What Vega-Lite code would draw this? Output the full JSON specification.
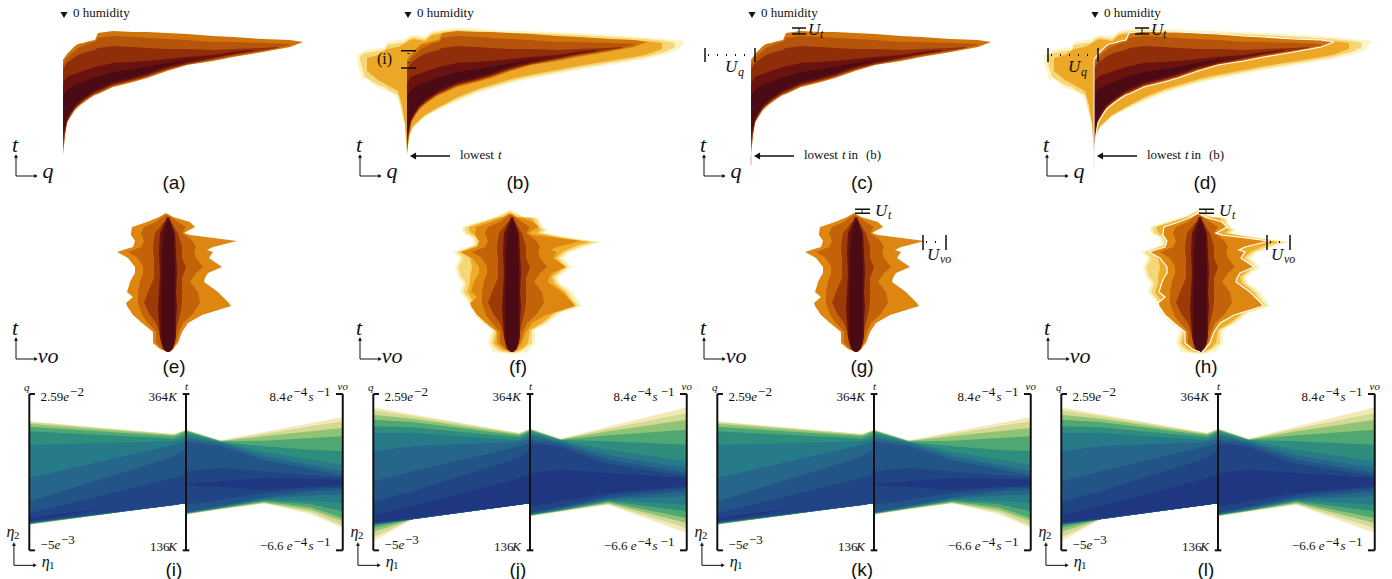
{"$schema":"https://vega.github.io/schema/vega-lite/v6.json","padding":0,"spacing":0,"bounds":"flush","background":"white","columns":4,
"resolve":{"scale":{"color":"independent","shape":"independent","size":"independent","strokeWidth":"independent","strokeDash":"independent"}},
"config":{"view":{"stroke":null},"style":{
"axislabel":{"font":"Liberation Serif","fontStyle":"italic","fontSize":22,"align":"center","baseline":"alphabetic","color":"#111"},
"caption":{"font":"Liberation Sans","fontSize":19,"align":"center","baseline":"alphabetic","color":"#111"},
"note":{"font":"Liberation Serif","fontSize":13,"align":"left","baseline":"alphabetic","color":"#111"},
"noteit":{"font":"Liberation Serif","fontStyle":"italic","fontSize":13,"align":"left","baseline":"alphabetic","color":"#111"},
"big":{"font":"Liberation Serif","fontSize":16,"align":"left","baseline":"alphabetic","color":"#111"},
"math":{"font":"Liberation Serif","fontStyle":"italic","fontSize":17,"align":"left","baseline":"alphabetic","color":"#111"},
"sub":{"font":"Liberation Serif","fontStyle":"italic","fontSize":12,"align":"left","baseline":"alphabetic","color":"#111"},
"small":{"font":"Liberation Serif","fontStyle":"italic","fontSize":11,"align":"center","baseline":"alphabetic","color":"#111"},
"eta":{"font":"Liberation Serif","fontStyle":"italic","fontSize":16,"align":"left","baseline":"alphabetic","color":"#111"},
"etasub":{"font":"Liberation Serif","fontSize":11,"align":"left","baseline":"alphabetic","color":"#111"}
}},
"datasets":{
"qshape":[
{"level":"w1","q":-50,"t":92,"t2":100},{"level":"w1","q":-44,"t":73,"t2":103},{"level":"w1","q":-42,"t":78,"t2":105},{"level":"w1","q":-29,"t":67,"t2":107},{"level":"w1","q":-22,"t":65,"t2":108},{"level":"w1","q":-20,"t":64,"t2":113},{"level":"w1","q":-9,"t":57,"t2":115},{"level":"w1","q":-7,"t":48,"t2":115},{"level":"w1","q":-2,"t":28,"t2":116},{"level":"w1","q":0,"t":0,"t2":118},{"level":"w1","q":1,"t":15,"t2":119},{"level":"w1","q":6,"t":27,"t2":120},{"level":"w1","q":18,"t":38,"t2":119},{"level":"w1","q":25,"t":42,"t2":124},{"level":"w1","q":38,"t":48,"t2":126},{"level":"w1","q":51,"t":54,"t2":127},{"level":"w1","q":71,"t":62,"t2":126},{"level":"w1","q":105,"t":72,"t2":124},{"level":"w1","q":118,"t":75,"t2":124},{"level":"w1","q":171,"t":85,"t2":122},{"level":"w1","q":221,"t":93,"t2":119},{"level":"w1","q":238,"t":96,"t2":118},{"level":"w1","q":258,"t":100,"t2":116},{"level":"w1","q":271,"t":105,"t2":115},{"level":"w1","q":278,"t":114,"t2":114},
{"level":"w2","q":-47,"t":94,"t2":99},{"level":"w2","q":-42,"t":78,"t2":102},{"level":"w2","q":-29,"t":70,"t2":104},{"level":"w2","q":-22,"t":68,"t2":105},{"level":"w2","q":-20,"t":66,"t2":110},{"level":"w2","q":-9,"t":60,"t2":112},{"level":"w2","q":-7,"t":52,"t2":112},{"level":"w2","q":-2,"t":30,"t2":113},{"level":"w2","q":0,"t":2,"t2":115},{"level":"w2","q":1,"t":16,"t2":116},{"level":"w2","q":6,"t":28,"t2":118},{"level":"w2","q":18,"t":39,"t2":116},{"level":"w2","q":25,"t":43,"t2":122},{"level":"w2","q":38,"t":50,"t2":124},{"level":"w2","q":51,"t":56,"t2":125},{"level":"w2","q":71,"t":64,"t2":124},{"level":"w2","q":105,"t":74,"t2":122},{"level":"w2","q":118,"t":77,"t2":122},{"level":"w2","q":171,"t":87,"t2":120},{"level":"w2","q":221,"t":95,"t2":117},{"level":"w2","q":238,"t":98,"t2":116},{"level":"w2","q":258,"t":103,"t2":114},{"level":"w2","q":268,"t":108,"t2":112},
{"level":"w3","q":-40,"t":84,"t2":97},{"level":"w3","q":-29,"t":75,"t2":100},{"level":"w3","q":-20,"t":70,"t2":106},{"level":"w3","q":-9,"t":64,"t2":108},{"level":"w3","q":-5,"t":50,"t2":110},{"level":"w3","q":-2,"t":32,"t2":112},{"level":"w3","q":0,"t":5,"t2":113},{"level":"w3","q":1,"t":17,"t2":114},{"level":"w3","q":6,"t":29,"t2":116},{"level":"w3","q":18,"t":40,"t2":114},{"level":"w3","q":25,"t":44,"t2":120},{"level":"w3","q":38,"t":51,"t2":122},{"level":"w3","q":51,"t":58,"t2":123},{"level":"w3","q":71,"t":66,"t2":122},{"level":"w3","q":105,"t":76,"t2":120},{"level":"w3","q":118,"t":79,"t2":120},{"level":"w3","q":171,"t":89,"t2":118},{"level":"w3","q":221,"t":97,"t2":115},{"level":"w3","q":238,"t":100,"t2":114},{"level":"w3","q":255,"t":106,"t2":112},
{"level":"a","q":0,"t":0,"t2":95},{"level":"a","q":1,"t":10,"t2":97},{"level":"a","q":2,"t":20,"t2":98},{"level":"a","q":4,"t":32,"t2":101},{"level":"a","q":8,"t":39,"t2":105},{"level":"a","q":12,"t":45,"t2":109},{"level":"a","q":15,"t":48,"t2":111},{"level":"a","q":20,"t":52,"t2":112},{"level":"a","q":27,"t":57,"t2":114},{"level":"a","q":32,"t":60,"t2":115},{"level":"a","q":35,"t":61,"t2":122},{"level":"a","q":50,"t":68,"t2":124},{"level":"a","q":70,"t":73,"t2":123},{"level":"a","q":84,"t":77,"t2":123},{"level":"a","q":104,"t":84,"t2":122},{"level":"a","q":124,"t":90,"t2":121},{"level":"a","q":150,"t":94,"t2":119},{"level":"a","q":170,"t":98,"t2":118},{"level":"a","q":200,"t":103,"t2":116},{"level":"a","q":227,"t":108,"t2":115},{"level":"a","q":240,"t":113,"t2":113},
{"level":"b","q":0,"t":5,"t2":90},{"level":"b","q":1,"t":11,"t2":92},{"level":"b","q":2,"t":21,"t2":94},{"level":"b","q":4,"t":33,"t2":97},{"level":"b","q":8,"t":40,"t2":101},{"level":"b","q":12,"t":46,"t2":104},{"level":"b","q":15,"t":49,"t2":107},{"level":"b","q":20,"t":53,"t2":109},{"level":"b","q":27,"t":58,"t2":112},{"level":"b","q":32,"t":61,"t2":113},{"level":"b","q":35,"t":62,"t2":117},{"level":"b","q":50,"t":69,"t2":119},{"level":"b","q":70,"t":74,"t2":118},{"level":"b","q":84,"t":78,"t2":117},{"level":"b","q":104,"t":85,"t2":116},{"level":"b","q":124,"t":90.5,"t2":115},{"level":"b","q":150,"t":95,"t2":113},{"level":"b","q":170,"t":99,"t2":113},{"level":"b","q":200,"t":104,"t2":112},{"level":"b","q":227,"t":110,"t2":111},
{"level":"c","q":0,"t":10,"t2":85},{"level":"c","q":2,"t":23,"t2":89},{"level":"c","q":4,"t":34,"t2":92},{"level":"c","q":8,"t":41,"t2":95},{"level":"c","q":12,"t":47,"t2":98},{"level":"c","q":15,"t":50,"t2":100},{"level":"c","q":20,"t":54,"t2":102},{"level":"c","q":27,"t":59,"t2":104},{"level":"c","q":32,"t":62,"t2":105},{"level":"c","q":35,"t":63,"t2":107},{"level":"c","q":50,"t":70,"t2":109},{"level":"c","q":70,"t":75,"t2":108},{"level":"c","q":84,"t":79,"t2":107},{"level":"c","q":104,"t":86,"t2":106},{"level":"c","q":124,"t":91,"t2":106},{"level":"c","q":150,"t":96,"t2":105},{"level":"c","q":170,"t":100,"t2":106},{"level":"c","q":200,"t":105,"t2":107},{"level":"c","q":215,"t":107,"t2":108},
{"level":"d","q":0,"t":15,"t2":72},{"level":"d","q":2,"t":25,"t2":75},{"level":"d","q":4,"t":35,"t2":78},{"level":"d","q":8,"t":42,"t2":80},{"level":"d","q":12,"t":48,"t2":81},{"level":"d","q":20,"t":55,"t2":84},{"level":"d","q":32,"t":63,"t2":88},{"level":"d","q":50,"t":71,"t2":92},{"level":"d","q":70,"t":76,"t2":93},{"level":"d","q":84,"t":80,"t2":94},{"level":"d","q":104,"t":87,"t2":96},{"level":"d","q":124,"t":92,"t2":98},{"level":"d","q":150,"t":97,"t2":100},{"level":"d","q":170,"t":101,"t2":103},{"level":"d","q":190,"t":104,"t2":105},
{"level":"e","q":0,"t":22,"t2":60},{"level":"e","q":2,"t":28,"t2":62},{"level":"e","q":4,"t":37,"t2":65},{"level":"e","q":8,"t":44,"t2":68},{"level":"e","q":12,"t":50,"t2":70},{"level":"e","q":20,"t":57,"t2":73},{"level":"e","q":32,"t":65,"t2":78},{"level":"e","q":50,"t":73,"t2":83},{"level":"e","q":70,"t":78,"t2":86},{"level":"e","q":84,"t":82,"t2":88},{"level":"e","q":104,"t":89,"t2":92},{"level":"e","q":124,"t":94,"t2":95},{"level":"e","q":140,"t":97,"t2":97}],
"r1rules":[
{"p":"abcd","k":"thin","q":-47,"t":-21,"q2":-47,"t2":-1},{"p":"abcd","k":"thin","q":-47,"t":-21,"q2":-27,"t2":-21},
{"p":"b","k":"thick","q":-6,"t":104.3,"q2":9,"t2":104.3},{"p":"b","k":"thick","q":-6,"t":87,"q2":9,"t2":87},{"p":"b","k":"dots","q":1.5,"t":102,"q2":1.5,"t2":89},
{"p":"bcd","k":"thick","q":43,"t":-1,"q2":7,"t2":-1},
{"p":"cd","k":"thick","q":41,"t":127,"q2":55,"t2":127},{"p":"cd","k":"thick","q":41,"t":121,"q2":55,"t2":121},{"p":"cd","k":"thin","q":48,"t":127,"q2":48,"t2":121},
{"p":"cd","k":"thick","q":-46,"t":107,"q2":-46,"t2":93},{"p":"cd","k":"thick","q":4,"t":107,"q2":4,"t2":93},{"p":"cd","k":"dots","q":-43,"t":100,"q2":2,"t2":100}],
"r1heads":[
{"p":"abcd","k":"small","q":-47,"t":-1,"dir":"up"},{"p":"abcd","k":"small","q":-27,"t":-21,"dir":"right"},{"p":"abcd","k":"big","q":1,"t":140,"dir":"down"},{"p":"bcd","k":"big","q":6,"t":-1,"dir":"left"}],
"r1labels":[
{"p":"abcd","k":"axis","q":-48,"t":3,"label":"t"},{"p":"abcd","k":"axis","q":-15,"t":-23,"label":"q"},
{"p":"a","k":"caption","q":111,"t":-34,"label":"(a)"},{"p":"b","k":"caption","q":111,"t":-34,"label":"(b)"},{"p":"c","k":"caption","q":111,"t":-34,"label":"(c)"},{"p":"d","k":"caption","q":111,"t":-34,"label":"(d)"},
{"p":"abcd","k":"note","q":10,"t":138,"label":"0 humidity"},{"p":"bcd","k":"note","q":53,"t":-4,"label":"lowest"},{"p":"cd","k":"note","q":97,"t":-4,"label":"in"},{"p":"cd","k":"note","q":115,"t":-4,"label":"(b)"},
{"p":"bcd","k":"noteit","q":91,"t":-4,"label":"t"},{"p":"b","k":"big","q":-30,"t":91,"label":"(i)"},
{"p":"cd","k":"math","q":57,"t":120,"label":"U"},{"p":"cd","k":"sub","q":69,"t":117,"label":"t"},{"p":"cd","k":"math","q":-26,"t":83,"label":"U"},{"p":"cd","k":"sub","q":-13,"t":79,"label":"q"}],
"voshape":[
{"level":"w1","t":142,"vo":-2,"vo2":-2},{"level":"w1","t":135,"vo":-17,"vo2":13},{"level":"w1","t":134,"vo":-20,"vo2":26},{"level":"w1","t":125,"vo":-50,"vo2":31},{"level":"w1","t":122,"vo":-50,"vo2":36},{"level":"w1","t":119,"vo":-49,"vo2":31},{"level":"w1","t":114,"vo":-40,"vo2":60},{"level":"w1","t":110,"vo":-39,"vo2":90},{"level":"w1","t":107,"vo":-39,"vo2":78},{"level":"w1","t":100,"vo":-59,"vo2":58},{"level":"w1","t":94,"vo":-52,"vo2":51},{"level":"w1","t":85,"vo":-57,"vo2":60},{"level":"w1","t":75,"vo":-54,"vo2":46},{"level":"w1","t":69,"vo":-49,"vo2":48},{"level":"w1","t":60,"vo":-52,"vo2":60},{"level":"w1","t":50,"vo":-44,"vo2":67},{"level":"w1","t":46,"vo":-42,"vo2":70},{"level":"w1","t":39,"vo":-39,"vo2":48},{"level":"w1","t":29,"vo":-30,"vo2":36},{"level":"w1","t":22,"vo":-20,"vo2":23},{"level":"w1","t":9,"vo":-24,"vo2":23},{"level":"w1","t":0,"vo":-19,"vo2":15},{"level":"w1","t":-2,"vo":1,"vo2":1},
{"level":"w2","t":141,"vo":-2,"vo2":-2},{"level":"w2","t":135,"vo":-15,"vo2":11},{"level":"w2","t":134,"vo":-18,"vo2":24},{"level":"w2","t":125,"vo":-47,"vo2":28},{"level":"w2","t":122,"vo":-47,"vo2":33},{"level":"w2","t":119,"vo":-46,"vo2":28},{"level":"w2","t":114,"vo":-37,"vo2":56},{"level":"w2","t":110,"vo":-36,"vo2":84},{"level":"w2","t":107,"vo":-36,"vo2":73},{"level":"w2","t":100,"vo":-55,"vo2":54},{"level":"w2","t":94,"vo":-49,"vo2":47},{"level":"w2","t":85,"vo":-54,"vo2":56},{"level":"w2","t":75,"vo":-51,"vo2":43},{"level":"w2","t":69,"vo":-46,"vo2":45},{"level":"w2","t":60,"vo":-49,"vo2":56},{"level":"w2","t":50,"vo":-41,"vo2":63},{"level":"w2","t":46,"vo":-39,"vo2":66},{"level":"w2","t":39,"vo":-36,"vo2":45},{"level":"w2","t":29,"vo":-27,"vo2":33},{"level":"w2","t":22,"vo":-17,"vo2":20},{"level":"w2","t":9,"vo":-21,"vo2":20},{"level":"w2","t":3,"vo":-16,"vo2":12},{"level":"w2","t":0,"vo":-10,"vo2":6},{"level":"w2","t":-1,"vo":0,"vo2":1},
{"level":"w3","t":135,"vo":-11,"vo2":9},{"level":"w3","t":134,"vo":-15,"vo2":20},{"level":"w3","t":125,"vo":-43,"vo2":25},{"level":"w3","t":122,"vo":-43,"vo2":29},{"level":"w3","t":119,"vo":-41,"vo2":25},{"level":"w3","t":114,"vo":-33,"vo2":50},{"level":"w3","t":110,"vo":-33,"vo2":78},{"level":"w3","t":107,"vo":-33,"vo2":66},{"level":"w3","t":100,"vo":-52,"vo2":50},{"level":"w3","t":94,"vo":-42,"vo2":44},{"level":"w3","t":85,"vo":-40,"vo2":53},{"level":"w3","t":75,"vo":-42,"vo2":40},{"level":"w3","t":69,"vo":-42,"vo2":42},{"level":"w3","t":60,"vo":-45,"vo2":53},{"level":"w3","t":50,"vo":-38,"vo2":60},{"level":"w3","t":46,"vo":-36,"vo2":63},{"level":"w3","t":39,"vo":-33,"vo2":42},{"level":"w3","t":29,"vo":-24,"vo2":30},{"level":"w3","t":22,"vo":-15,"vo2":18},{"level":"w3","t":9,"vo":-18,"vo2":16},{"level":"w3","t":3,"vo":-12,"vo2":10},{"level":"w3","t":0,"vo":-3,"vo2":3},
{"level":"a","t":139,"vo":-2,"vo2":-2},{"level":"a","t":135,"vo":-9,"vo2":5},{"level":"a","t":130,"vo":-21,"vo2":22},{"level":"a","t":125,"vo":-36,"vo2":27},{"level":"a","t":119,"vo":-37,"vo2":16},{"level":"a","t":117,"vo":-37,"vo2":22},{"level":"a","t":111,"vo":-33,"vo2":69},{"level":"a","t":105,"vo":-35,"vo2":45},{"level":"a","t":102,"vo":-45,"vo2":39},{"level":"a","t":100,"vo":-51,"vo2":45},{"level":"a","t":94,"vo":-40,"vo2":41},{"level":"a","t":85,"vo":-33,"vo2":54},{"level":"a","t":79,"vo":-33,"vo2":40},{"level":"a","t":74,"vo":-36,"vo2":37},{"level":"a","t":70,"vo":-38,"vo2":36},{"level":"a","t":60,"vo":-41,"vo2":50},{"level":"a","t":55,"vo":-35,"vo2":55},{"level":"a","t":49,"vo":-42,"vo2":61},{"level":"a","t":46,"vo":-41,"vo2":63},{"level":"a","t":37,"vo":-35,"vo2":34},{"level":"a","t":29,"vo":-26,"vo2":20},{"level":"a","t":20,"vo":-15,"vo2":14},{"level":"a","t":9,"vo":-15,"vo2":10},{"level":"a","t":3,"vo":-8,"vo2":5},{"level":"a","t":0,"vo":0,"vo2":2},
{"level":"m1","t":137,"vo":-3,"vo2":0},{"level":"m1","t":130,"vo":-12,"vo2":10},{"level":"m1","t":125,"vo":-24,"vo2":18},{"level":"m1","t":119,"vo":-27,"vo2":14},{"level":"m1","t":111,"vo":-24,"vo2":25},{"level":"m1","t":105,"vo":-27,"vo2":28},{"level":"m1","t":100,"vo":-40,"vo2":26},{"level":"m1","t":94,"vo":-30,"vo2":28},{"level":"m1","t":85,"vo":-25,"vo2":35},{"level":"m1","t":79,"vo":-25,"vo2":28},{"level":"m1","t":70,"vo":-28,"vo2":22},{"level":"m1","t":60,"vo":-30,"vo2":30},{"level":"m1","t":49,"vo":-30,"vo2":32},{"level":"m1","t":37,"vo":-26,"vo2":24},{"level":"m1","t":29,"vo":-20,"vo2":15},{"level":"m1","t":20,"vo":-12,"vo2":11},{"level":"m1","t":9,"vo":-12,"vo2":8},{"level":"m1","t":3,"vo":-6,"vo2":4},{"level":"m1","t":0,"vo":-1,"vo2":1},
{"level":"m2","t":130,"vo":-4,"vo2":3},{"level":"m2","t":119,"vo":-13,"vo2":10},{"level":"m2","t":105,"vo":-15,"vo2":14},{"level":"m2","t":94,"vo":-14,"vo2":14},{"level":"m2","t":85,"vo":-14,"vo2":18},{"level":"m2","t":74,"vo":-14,"vo2":14},{"level":"m2","t":60,"vo":-20,"vo2":14},{"level":"m2","t":49,"vo":-24,"vo2":14},{"level":"m2","t":37,"vo":-18,"vo2":12},{"level":"m2","t":29,"vo":-12,"vo2":10},{"level":"m2","t":20,"vo":-9,"vo2":8},{"level":"m2","t":9,"vo":-7,"vo2":7},{"level":"m2","t":1,"vo":-2,"vo2":2},
{"level":"m3","t":135,"vo":-1,"vo2":1},{"level":"m3","t":119,"vo":-8,"vo2":7},{"level":"m3","t":100,"vo":-9,"vo2":8},{"level":"m3","t":80,"vo":-8,"vo2":9},{"level":"m3","t":60,"vo":-9,"vo2":8},{"level":"m3","t":45,"vo":-10,"vo2":9},{"level":"m3","t":30,"vo":-9,"vo2":8},{"level":"m3","t":15,"vo":-8,"vo2":8},{"level":"m3","t":3,"vo":-5,"vo2":5},{"level":"m3","t":0,"vo":-1,"vo2":1},
{"level":"core","t":132,"vo":0,"vo2":0.5},{"level":"core","t":125,"vo":-3,"vo2":4},{"level":"core","t":115,"vo":-5,"vo2":6},{"level":"core","t":100,"vo":-6,"vo2":6},{"level":"core","t":80,"vo":-6,"vo2":7},{"level":"core","t":60,"vo":-7,"vo2":7},{"level":"core","t":40,"vo":-7,"vo2":7},{"level":"core","t":20,"vo":-7,"vo2":7},{"level":"core","t":8,"vo":-6,"vo2":6},{"level":"core","t":2,"vo":-3,"vo2":3},{"level":"core","t":0,"vo":-1,"vo2":1}],
"r2rules":[
{"p":"efgh","k":"thin","vo":-152,"t":-7,"vo2":-152,"t2":13},{"p":"efgh","k":"thin","vo":-152,"t":-7,"vo2":-132,"t2":-7},
{"p":"gh","k":"thick","vo":-1,"t":142.7,"vo2":14,"t2":142.7},{"p":"gh","k":"thick","vo":-1,"t":138.7,"vo2":14,"t2":138.7},{"p":"gh","k":"thin","vo":6,"t":142.7,"vo2":6,"t2":138.7},
{"p":"gh","k":"thick","vo":67,"t":117,"vo2":67,"t2":102},{"p":"gh","k":"thick","vo":90,"t":117,"vo2":90,"t2":102},{"p":"gh","k":"dots","vo":70,"t":110,"vo2":88,"t2":110}],
"r2heads":[{"p":"efgh","k":"small","vo":-152,"t":13,"dir":"up"},{"p":"efgh","k":"small","vo":-132,"t":-7,"dir":"right"}],
"r2labels":[
{"p":"efgh","k":"axis","vo":-153,"t":17,"label":"t"},{"p":"efgh","k":"axis","vo":-120,"t":-11,"label":"vo"},
{"p":"e","k":"caption","vo":6,"t":-21,"label":"(e)"},{"p":"f","k":"caption","vo":6,"t":-21,"label":"(f)"},{"p":"g","k":"caption","vo":6,"t":-21,"label":"(g)"},{"p":"h","k":"caption","vo":6,"t":-21,"label":"(h)"},
{"p":"gh","k":"math","vo":19,"t":136,"label":"U"},{"p":"gh","k":"sub","vo":32,"t":133,"label":"t"},{"p":"gh","k":"math","vo":71,"t":92,"label":"U"},{"p":"gh","k":"sub","vo":84,"t":89,"label":"vo"}],
"pcpnarrow":[
{"level":"L1","a":0,"v":77,"v2":387},{"level":"L1","a":0.925,"v":137,"v2":349},{"level":"L1","a":1,"v":142,"v2":362},{"level":"L1","a":1.002,"v":107,"v2":362},{"level":"L1","a":1.222,"v":123,"v2":330},{"level":"L1","a":1.498,"v":142,"v2":355},{"level":"L1","a":1.794,"v":109,"v2":381},{"level":"L1","a":2,"v":67,"v2":399},
{"level":"L2","a":0,"v":77,"v2":385},{"level":"L2","a":0.925,"v":137,"v2":348},{"level":"L2","a":1,"v":142,"v2":361},{"level":"L2","a":1.002,"v":108,"v2":361},{"level":"L2","a":1.222,"v":124,"v2":329},{"level":"L2","a":1.498,"v":141,"v2":349},{"level":"L2","a":1.794,"v":115,"v2":372},{"level":"L2","a":2,"v":74,"v2":387},
{"level":"L3","a":0,"v":78,"v2":380},{"level":"L3","a":0.925,"v":137,"v2":346},{"level":"L3","a":1,"v":142,"v2":360},{"level":"L3","a":1.002,"v":109,"v2":360},{"level":"L3","a":1.222,"v":125,"v2":328},{"level":"L3","a":1.498,"v":143,"v2":342},{"level":"L3","a":1.794,"v":122,"v2":357},{"level":"L3","a":2,"v":87,"v2":367},
{"level":"L4","a":0,"v":79,"v2":371},{"level":"L4","a":0.925,"v":136,"v2":342},{"level":"L4","a":1,"v":142,"v2":357},{"level":"L4","a":1.002,"v":110,"v2":358},{"level":"L4","a":1.222,"v":126,"v2":327},{"level":"L4","a":1.498,"v":146,"v2":329},{"level":"L4","a":1.794,"v":129,"v2":337},{"level":"L4","a":2,"v":97,"v2":342},
{"level":"L5","a":0,"v":80,"v2":357},{"level":"L5","a":0.925,"v":136,"v2":335},{"level":"L5","a":1,"v":142,"v2":349},{"level":"L5","a":1.002,"v":111,"v2":355},{"level":"L5","a":1.222,"v":127,"v2":326},{"level":"L5","a":1.498,"v":149,"v2":312},{"level":"L5","a":1.794,"v":139,"v2":302},{"level":"L5","a":2,"v":117,"v2":297},
{"level":"L6","a":0,"v":81,"v2":317},{"level":"L6","a":0.925,"v":136,"v2":327},{"level":"L6","a":1,"v":142,"v2":337},{"level":"L6","a":1.002,"v":112,"v2":347},{"level":"L6","a":1.222,"v":129,"v2":324},{"level":"L6","a":1.498,"v":151,"v2":295},{"level":"L6","a":1.794,"v":149,"v2":272},{"level":"L6","a":2,"v":142,"v2":257},
{"level":"L7","a":0,"v":82,"v2":217},{"level":"L7","a":0.925,"v":136,"v2":317},{"level":"L7","a":1,"v":142,"v2":327},{"level":"L7","a":1.002,"v":113,"v2":337},{"level":"L7","a":1.222,"v":131,"v2":321},{"level":"L7","a":1.498,"v":155,"v2":282},{"level":"L7","a":1.794,"v":165,"v2":255},{"level":"L7","a":2,"v":167,"v2":237},
{"level":"L8","a":0,"v":83,"v2":147},{"level":"L8","a":0.925,"v":136,"v2":282},{"level":"L8","a":1,"v":142,"v2":302},{"level":"L8","a":1.002,"v":115,"v2":327},{"level":"L8","a":1.222,"v":133,"v2":312},{"level":"L8","a":1.498,"v":159,"v2":272},{"level":"L8","a":1.794,"v":177,"v2":245},{"level":"L8","a":2,"v":182,"v2":225},
{"level":"L9","a":0,"v":85,"v2":112},{"level":"L9","a":0.925,"v":137,"v2":217},{"level":"L9","a":1,"v":141,"v2":227},{"level":"L9","a":1.002,"v":137,"v2":237},{"level":"L9","a":1.222,"v":152,"v2":247},{"level":"L9","a":1.498,"v":172,"v2":237},{"level":"L9","a":1.794,"v":185,"v2":225},{"level":"L9","a":2,"v":189,"v2":219},
{"level":"L10","a":0,"v":87,"v2":97},{"level":"L10","a":0.4,"v":117,"v2":122},{"level":"L10","a":0.45,"v":125,"v2":125},{"level":"L10","a":1,"v":187,"v2":187},{"level":"L10","a":1.002,"v":195,"v2":199},{"level":"L10","a":1.5,"v":182,"v2":217},{"level":"L10","a":2,"v":195,"v2":212}],
"pcpwide":[
{"level":"L1","a":0,"v":27,"v2":429},{"level":"L1","a":0.25,"v":93,"v2":408},{"level":"L1","a":0.93,"v":137,"v2":352},{"level":"L1","a":1,"v":142,"v2":365},{"level":"L1","a":1.002,"v":102,"v2":365},{"level":"L1","a":1.195,"v":116,"v2":335},{"level":"L1","a":1.5,"v":137,"v2":371},{"level":"L1","a":2,"v":52,"v2":429},
{"level":"L2","a":0,"v":39,"v2":420},{"level":"L2","a":0.25,"v":93,"v2":403},{"level":"L2","a":0.93,"v":137,"v2":351},{"level":"L2","a":1,"v":142,"v2":364},{"level":"L2","a":1.002,"v":103,"v2":364},{"level":"L2","a":1.195,"v":117,"v2":334},{"level":"L2","a":1.5,"v":138,"v2":365},{"level":"L2","a":2,"v":67,"v2":412},
{"level":"L3","a":0,"v":55,"v2":407},{"level":"L3","a":0.25,"v":93,"v2":395},{"level":"L3","a":0.93,"v":137,"v2":349},{"level":"L3","a":1,"v":142,"v2":362},{"level":"L3","a":1.002,"v":104,"v2":363},{"level":"L3","a":1.195,"v":118,"v2":333},{"level":"L3","a":1.5,"v":141,"v2":357},{"level":"L3","a":2,"v":82,"v2":392},
{"level":"L4","a":0,"v":67,"v2":392},{"level":"L4","a":0.25,"v":93,"v2":385},{"level":"L4","a":0.93,"v":137,"v2":345},{"level":"L4","a":1,"v":142,"v2":359},{"level":"L4","a":1.002,"v":105,"v2":361},{"level":"L4","a":1.195,"v":119,"v2":332},{"level":"L4","a":1.5,"v":144,"v2":345},{"level":"L4","a":2,"v":97,"v2":362},
{"level":"L5","a":0,"v":75,"v2":372},{"level":"L5","a":0.25,"v":93,"v2":369},{"level":"L5","a":0.93,"v":137,"v2":339},{"level":"L5","a":1,"v":142,"v2":354},{"level":"L5","a":1.002,"v":106,"v2":358},{"level":"L5","a":1.195,"v":120,"v2":331},{"level":"L5","a":1.5,"v":147,"v2":327},{"level":"L5","a":2,"v":117,"v2":317},
{"level":"L6","a":0,"v":77,"v2":352},{"level":"L6","a":0.25,"v":93,"v2":352},{"level":"L6","a":0.93,"v":137,"v2":331},{"level":"L6","a":1,"v":142,"v2":345},{"level":"L6","a":1.002,"v":107,"v2":352},{"level":"L6","a":1.195,"v":122,"v2":329},{"level":"L6","a":1.5,"v":150,"v2":302},{"level":"L6","a":2,"v":137,"v2":267},
{"level":"L7","a":0,"v":77,"v2":297},{"level":"L7","a":0.25,"v":93,"v2":312},{"level":"L7","a":0.93,"v":137,"v2":325},{"level":"L7","a":1,"v":142,"v2":335},{"level":"L7","a":1.002,"v":108,"v2":342},{"level":"L7","a":1.195,"v":124,"v2":325},{"level":"L7","a":1.5,"v":153,"v2":285},{"level":"L7","a":2,"v":162,"v2":247},
{"level":"L8","a":0,"v":79,"v2":207},{"level":"L8","a":0.25,"v":93,"v2":237},{"level":"L8","a":0.93,"v":137,"v2":312},{"level":"L8","a":1,"v":142,"v2":322},{"level":"L8","a":1.002,"v":110,"v2":332},{"level":"L8","a":1.195,"v":127,"v2":319},{"level":"L8","a":1.5,"v":157,"v2":272},{"level":"L8","a":2,"v":177,"v2":232},
{"level":"L9","a":0,"v":81,"v2":147},{"level":"L9","a":0.25,"v":95,"v2":177},{"level":"L9","a":0.93,"v":137,"v2":277},{"level":"L9","a":1,"v":141,"v2":302},{"level":"L9","a":1.002,"v":114,"v2":322},{"level":"L9","a":1.195,"v":131,"v2":309},{"level":"L9","a":1.5,"v":165,"v2":259},{"level":"L9","a":2,"v":187,"v2":222},
{"level":"L10","a":0,"v":83,"v2":107},{"level":"L10","a":0.25,"v":97,"v2":132},{"level":"L10","a":0.93,"v":137,"v2":217},{"level":"L10","a":1,"v":141,"v2":227},{"level":"L10","a":1.002,"v":132,"v2":232},{"level":"L10","a":1.195,"v":147,"v2":242},{"level":"L10","a":1.5,"v":172,"v2":232},{"level":"L10","a":2,"v":192,"v2":217}],
"r3rules":[
{"k":"thick","a":0,"v":0,"a2":0,"v2":469},{"k":"thick","a":0,"v":469,"a2":0.036,"v2":469},{"k":"thick","a":0,"v":0,"a2":0.036,"v2":0},
{"k":"thick","a":1,"v":0,"a2":1,"v2":469},{"k":"thick","a":0.979,"v":469,"a2":1.021,"v2":469},{"k":"thick","a":0.979,"v":0,"a2":1.021,"v2":0},
{"k":"thick","a":2,"v":0,"a2":2,"v2":469},{"k":"thick","a":1.957,"v":469,"a2":2,"v2":469},{"k":"thick","a":1.957,"v":0,"a2":2,"v2":0},
{"k":"thin","a":-0.098,"v":-45,"a2":-0.098,"v2":19},{"k":"thin","a":-0.098,"v":-45,"a2":0.036,"v2":-45}],
"r3heads":[{"k":"small","a":-0.098,"v":19,"dir":"up"},{"k":"small","a":0.036,"v":-45,"dir":"right"}],
"r3labels":[
{"p":"ijkl","k":"small","a":-0.017,"v":479,"label":"q"},{"p":"ijkl","k":"small","a":1.004,"v":482,"label":"t"},{"p":"ijkl","k":"small","a":2,"v":482,"label":"vo"},
{"p":"ijkl","k":"note","a":0.072,"v":449,"label":"2.59"},{"p":"ijkl","k":"noteit","a":0.217,"v":449,"label":"e"},{"p":"ijkl","k":"note","a":0.26,"v":462,"label":"−2"},
{"p":"ijkl","k":"note","a":0.072,"v":5,"label":"−5"},{"p":"ijkl","k":"noteit","a":0.16,"v":5,"label":"e"},{"p":"ijkl","k":"note","a":0.202,"v":19,"label":"−3"},
{"p":"ijkl","k":"note","a":0.76,"v":449,"label":"364"},{"p":"ijkl","k":"noteit","a":0.887,"v":449,"label":"K"},{"p":"ijkl","k":"note","a":0.77,"v":-3,"label":"136"},{"p":"ijkl","k":"noteit","a":0.887,"v":-3,"label":"K"},
{"p":"ijkl","k":"note","a":1.532,"v":449,"label":"8.4"},{"p":"ijkl","k":"noteit","a":1.643,"v":449,"label":"e"},{"p":"ijkl","k":"note","a":1.685,"v":462,"label":"−4"},{"p":"ijkl","k":"noteit","a":1.781,"v":449,"label":"s"},{"p":"ijkl","k":"note","a":1.834,"v":462,"label":"−1"},
{"p":"ijkl","k":"note","a":1.472,"v":0,"label":"−6.6"},{"p":"ijkl","k":"noteit","a":1.643,"v":0,"label":"e"},{"p":"ijkl","k":"note","a":1.685,"v":14,"label":"−4"},{"p":"ijkl","k":"noteit","a":1.781,"v":0,"label":"s"},{"p":"ijkl","k":"note","a":1.834,"v":14,"label":"−1"},
{"p":"ijkl","k":"eta","a":-0.145,"v":39,"label":"η"},{"p":"ijkl","k":"etasub","a":-0.098,"v":34,"label":"2"},{"p":"ijkl","k":"eta","a":0.079,"v":-51,"label":"η"},{"p":"ijkl","k":"etasub","a":0.125,"v":-57,"label":"1"},
{"p":"i","k":"caption","a":0.923,"v":-76,"label":"(i)"},{"p":"j","k":"caption","a":0.923,"v":-76,"label":"(j)"},{"p":"k","k":"caption","a":0.923,"v":-76,"label":"(k)"},{"p":"l","k":"caption","a":0.923,"v":-76,"label":"(l)"}]
},
"concat":[
{"width":344,"height":193,"encoding":{"x":{"field":"q","type":"quantitative","axis":null,"scale":{"domain":[-63,281],"nice":false,"zero":false}},"y":{"field":"t","type":"quantitative","axis":null,"scale":{"domain":[-38,155],"nice":false,"zero":false}}},"layer":[
{"data":{"name":"qshape"},"transform":[{"filter":"indexof(['a','b','c','d','e'],datum.level)>=0"}],"mark":{"type":"area"},"encoding":{"y2":{"field":"t2"},"color":{"field":"level","type":"nominal","legend":null,"scale":{"domain":["w1","w2","w3","a","b","c","d","e"],"range":["#fbf4c4","#f6d677","#eda726","#cf730b","#b5540a","#8f2e09","#6a1210","#4a0b15"]}}}},
{"data":{"name":"r1rules"},"transform":[{"filter":"indexof(datum.p,'a')>=0"}],"mark":{"type":"rule","color":"#111"},"encoding":{"x2":{"field":"q2"},"y2":{"field":"t2"},"strokeWidth":{"field":"k","type":"nominal","legend":null,"scale":{"domain":["thin","thick","dots"],"range":[1,2,1.2]}},"strokeDash":{"field":"k","type":"nominal","legend":null,"scale":{"domain":["thin","thick","dots"],"range":[[1,0],[1,0],[1,8]]}}}},
{"data":{"name":"r1heads"},"transform":[{"filter":"indexof(datum.p,'a')>=0"}],"mark":{"type":"point","filled":true,"color":"#111","opacity":1},"encoding":{"shape":{"field":"dir","type":"nominal","legend":null,"scale":{"domain":["up","right","left","down"],"range":["triangle-up","triangle-right","triangle-left","triangle-down"]}},"size":{"field":"k","type":"ordinal","legend":null,"scale":{"domain":["small","big"],"range":[16,50]}}}},
{"data":{"name":"r1labels"},"transform":[{"filter":"indexof(datum.p,'a')>=0&&datum.k=='axis'"}],"mark":{"type":"text","style":"axislabel"},"encoding":{"text":{"field":"label"}}},
{"data":{"name":"r1labels"},"transform":[{"filter":"indexof(datum.p,'a')>=0&&datum.k=='caption'"}],"mark":{"type":"text","style":"caption"},"encoding":{"text":{"field":"label"}}},
{"data":{"name":"r1labels"},"transform":[{"filter":"indexof(datum.p,'a')>=0&&datum.k=='note'"}],"mark":{"type":"text","style":"note"},"encoding":{"text":{"field":"label"}}}
]},
{"width":344,"height":193,"encoding":{"x":{"field":"q","type":"quantitative","axis":null,"scale":{"domain":[-63,281],"nice":false,"zero":false}},"y":{"field":"t","type":"quantitative","axis":null,"scale":{"domain":[-38,155],"nice":false,"zero":false}}},"layer":[
{"data":{"name":"qshape"},"mark":{"type":"area"},"encoding":{"y2":{"field":"t2"},"color":{"field":"level","type":"nominal","legend":null,"scale":{"domain":["w1","w2","w3","a","b","c","d","e"],"range":["#fbf4c4","#f6d677","#eda726","#cf730b","#b5540a","#8f2e09","#6a1210","#4a0b15"]}}}},
{"data":{"name":"r1rules"},"transform":[{"filter":"indexof(datum.p,'b')>=0"}],"mark":{"type":"rule","color":"#111"},"encoding":{"x2":{"field":"q2"},"y2":{"field":"t2"},"strokeWidth":{"field":"k","type":"nominal","legend":null,"scale":{"domain":["thin","thick","dots"],"range":[1,2,1.2]}},"strokeDash":{"field":"k","type":"nominal","legend":null,"scale":{"domain":["thin","thick","dots"],"range":[[1,0],[1,0],[1,8]]}}}},
{"data":{"name":"r1heads"},"transform":[{"filter":"indexof(datum.p,'b')>=0"}],"mark":{"type":"point","filled":true,"color":"#111","opacity":1},"encoding":{"shape":{"field":"dir","type":"nominal","legend":null,"scale":{"domain":["up","right","left","down"],"range":["triangle-up","triangle-right","triangle-left","triangle-down"]}},"size":{"field":"k","type":"ordinal","legend":null,"scale":{"domain":["small","big"],"range":[16,50]}}}},
{"data":{"name":"r1labels"},"transform":[{"filter":"indexof(datum.p,'b')>=0&&datum.k=='axis'"}],"mark":{"type":"text","style":"axislabel"},"encoding":{"text":{"field":"label"}}},
{"data":{"name":"r1labels"},"transform":[{"filter":"indexof(datum.p,'b')>=0&&datum.k=='caption'"}],"mark":{"type":"text","style":"caption"},"encoding":{"text":{"field":"label"}}},
{"data":{"name":"r1labels"},"transform":[{"filter":"indexof(datum.p,'b')>=0&&datum.k=='note'"}],"mark":{"type":"text","style":"note"},"encoding":{"text":{"field":"label"}}},
{"data":{"name":"r1labels"},"transform":[{"filter":"indexof(datum.p,'b')>=0&&datum.k=='noteit'"}],"mark":{"type":"text","style":"noteit"},"encoding":{"text":{"field":"label"}}},
{"data":{"name":"r1labels"},"transform":[{"filter":"indexof(datum.p,'b')>=0&&datum.k=='big'"}],"mark":{"type":"text","style":"big"},"encoding":{"text":{"field":"label"}}}
]},
{"width":344,"height":193,"encoding":{"x":{"field":"q","type":"quantitative","axis":null,"scale":{"domain":[-63,281],"nice":false,"zero":false}},"y":{"field":"t","type":"quantitative","axis":null,"scale":{"domain":[-38,155],"nice":false,"zero":false}}},"layer":[
{"data":{"name":"qshape"},"transform":[{"filter":"indexof(['a','b','c','d','e'],datum.level)>=0"}],"mark":{"type":"area"},"encoding":{"y2":{"field":"t2"},"color":{"field":"level","type":"nominal","legend":null,"scale":{"domain":["w1","w2","w3","a","b","c","d","e"],"range":["#fbf4c4","#f6d677","#eda726","#cf730b","#b5540a","#8f2e09","#6a1210","#4a0b15"]}}}},
{"data":{"values":[{"q":0,"t":0,"t2":-10}]},"mark":{"type":"rule","color":"#e0a8a8","strokeWidth":1},"encoding":{"y2":{"field":"t2"}}},
{"data":{"name":"r1rules"},"transform":[{"filter":"indexof(datum.p,'c')>=0"}],"mark":{"type":"rule","color":"#111"},"encoding":{"x2":{"field":"q2"},"y2":{"field":"t2"},"strokeWidth":{"field":"k","type":"nominal","legend":null,"scale":{"domain":["thin","thick","dots"],"range":[1,2,1.2]}},"strokeDash":{"field":"k","type":"nominal","legend":null,"scale":{"domain":["thin","thick","dots"],"range":[[1,0],[1,0],[1,8]]}}}},
{"data":{"name":"r1heads"},"transform":[{"filter":"indexof(datum.p,'c')>=0"}],"mark":{"type":"point","filled":true,"color":"#111","opacity":1},"encoding":{"shape":{"field":"dir","type":"nominal","legend":null,"scale":{"domain":["up","right","left","down"],"range":["triangle-up","triangle-right","triangle-left","triangle-down"]}},"size":{"field":"k","type":"ordinal","legend":null,"scale":{"domain":["small","big"],"range":[16,50]}}}},
{"data":{"name":"r1labels"},"transform":[{"filter":"indexof(datum.p,'c')>=0&&datum.k=='axis'"}],"mark":{"type":"text","style":"axislabel"},"encoding":{"text":{"field":"label"}}},
{"data":{"name":"r1labels"},"transform":[{"filter":"indexof(datum.p,'c')>=0&&datum.k=='caption'"}],"mark":{"type":"text","style":"caption"},"encoding":{"text":{"field":"label"}}},
{"data":{"name":"r1labels"},"transform":[{"filter":"indexof(datum.p,'c')>=0&&datum.k=='note'"}],"mark":{"type":"text","style":"note"},"encoding":{"text":{"field":"label"}}},
{"data":{"name":"r1labels"},"transform":[{"filter":"indexof(datum.p,'c')>=0&&datum.k=='noteit'"}],"mark":{"type":"text","style":"noteit"},"encoding":{"text":{"field":"label"}}},
{"data":{"name":"r1labels"},"transform":[{"filter":"indexof(datum.p,'c')>=0&&datum.k=='math'"}],"mark":{"type":"text","style":"math"},"encoding":{"text":{"field":"label"}}},
{"data":{"name":"r1labels"},"transform":[{"filter":"indexof(datum.p,'c')>=0&&datum.k=='sub'"}],"mark":{"type":"text","style":"sub"},"encoding":{"text":{"field":"label"}}}
]},
{"width":344,"height":193,"encoding":{"x":{"field":"q","type":"quantitative","axis":null,"scale":{"domain":[-62,282],"nice":false,"zero":false}},"y":{"field":"t","type":"quantitative","axis":null,"scale":{"domain":[-38,155],"nice":false,"zero":false}}},"layer":[
{"data":{"name":"qshape"},"mark":{"type":"area"},"encoding":{"y2":{"field":"t2"},"color":{"field":"level","type":"nominal","legend":null,"scale":{"domain":["w1","w2","w3","a","b","c","d","e"],"range":["#fbf4c4","#f6d677","#eda726","#cf730b","#b5540a","#8f2e09","#6a1210","#4a0b15"]}}}},
{"data":{"name":"qshape"},"transform":[{"filter":"datum.level=='a'"}],"mark":{"type":"line","color":"#ffffff","strokeWidth":1.2}},
{"data":{"name":"qshape"},"transform":[{"filter":"datum.level=='a'"}],"mark":{"type":"line","color":"#ffffff","strokeWidth":1.2},"encoding":{"y":{"field":"t2","type":"quantitative"}}},
{"data":{"values":[{"q":0,"t":95,"t2":-13}]},"mark":{"type":"rule","color":"#f4e6e6","strokeWidth":1.2},"encoding":{"y2":{"field":"t2"}}},
{"data":{"name":"r1rules"},"transform":[{"filter":"indexof(datum.p,'d')>=0"}],"mark":{"type":"rule","color":"#111"},"encoding":{"x2":{"field":"q2"},"y2":{"field":"t2"},"strokeWidth":{"field":"k","type":"nominal","legend":null,"scale":{"domain":["thin","thick","dots"],"range":[1,2,1.2]}},"strokeDash":{"field":"k","type":"nominal","legend":null,"scale":{"domain":["thin","thick","dots"],"range":[[1,0],[1,0],[1,8]]}}}},
{"data":{"name":"r1heads"},"transform":[{"filter":"indexof(datum.p,'d')>=0"}],"mark":{"type":"point","filled":true,"color":"#111","opacity":1},"encoding":{"shape":{"field":"dir","type":"nominal","legend":null,"scale":{"domain":["up","right","left","down"],"range":["triangle-up","triangle-right","triangle-left","triangle-down"]}},"size":{"field":"k","type":"ordinal","legend":null,"scale":{"domain":["small","big"],"range":[16,50]}}}},
{"data":{"name":"r1labels"},"transform":[{"filter":"indexof(datum.p,'d')>=0&&datum.k=='axis'"}],"mark":{"type":"text","style":"axislabel"},"encoding":{"text":{"field":"label"}}},
{"data":{"name":"r1labels"},"transform":[{"filter":"indexof(datum.p,'d')>=0&&datum.k=='caption'"}],"mark":{"type":"text","style":"caption"},"encoding":{"text":{"field":"label"}}},
{"data":{"name":"r1labels"},"transform":[{"filter":"indexof(datum.p,'d')>=0&&datum.k=='note'"}],"mark":{"type":"text","style":"note"},"encoding":{"text":{"field":"label"}}},
{"data":{"name":"r1labels"},"transform":[{"filter":"indexof(datum.p,'d')>=0&&datum.k=='noteit'"}],"mark":{"type":"text","style":"noteit"},"encoding":{"text":{"field":"label"}}},
{"data":{"name":"r1labels"},"transform":[{"filter":"indexof(datum.p,'d')>=0&&datum.k=='math'"}],"mark":{"type":"text","style":"math"},"encoding":{"text":{"field":"label"}}},
{"data":{"name":"r1labels"},"transform":[{"filter":"indexof(datum.p,'d')>=0&&datum.k=='sub'"}],"mark":{"type":"text","style":"sub"},"encoding":{"text":{"field":"label"}}}
]},
{"width":344,"height":187,"encoding":{"x":{"field":"vo","type":"quantitative","axis":null,"scale":{"domain":[-168,176],"nice":false,"zero":false}},"y":{"field":"t","type":"quantitative","axis":null,"scale":{"domain":[-28,159],"nice":false,"zero":false}}},"layer":[
{"data":{"name":"voshape"},"transform":[{"filter":"indexof(['a','m1','m2','m3','core'],datum.level)>=0"}],"mark":{"type":"area","orient":"horizontal"},"encoding":{"x2":{"field":"vo2"},"color":{"field":"level","type":"nominal","legend":null,"scale":{"domain":["w1","w2","w3","a","m1","m2","m3","core"],"range":["#fbf3bf","#f6d777","#eeae2a","#de8710","#c4620a","#9c3b08","#6a130e","#4a0b15"]}}}},
{"data":{"name":"r2rules"},"transform":[{"filter":"indexof(datum.p,'e')>=0"}],"mark":{"type":"rule","color":"#111"},"encoding":{"x2":{"field":"vo2"},"y2":{"field":"t2"},"strokeWidth":{"field":"k","type":"nominal","legend":null,"scale":{"domain":["thin","thick","dots"],"range":[1,2,1.2]}},"strokeDash":{"field":"k","type":"nominal","legend":null,"scale":{"domain":["thin","thick","dots"],"range":[[1,0],[1,0],[1,8]]}}}},
{"data":{"name":"r2heads"},"transform":[{"filter":"indexof(datum.p,'e')>=0"}],"mark":{"type":"point","filled":true,"color":"#111","opacity":1,"size":16},"encoding":{"shape":{"field":"dir","type":"nominal","legend":null,"scale":{"domain":["up","right"],"range":["triangle-up","triangle-right"]}}}},
{"data":{"name":"r2labels"},"transform":[{"filter":"indexof(datum.p,'e')>=0&&datum.k=='axis'"}],"mark":{"type":"text","style":"axislabel"},"encoding":{"text":{"field":"label"}}},
{"data":{"name":"r2labels"},"transform":[{"filter":"indexof(datum.p,'e')>=0&&datum.k=='caption'"}],"mark":{"type":"text","style":"caption"},"encoding":{"text":{"field":"label"}}}
]},
{"width":344,"height":187,"encoding":{"x":{"field":"vo","type":"quantitative","axis":null,"scale":{"domain":[-168,176],"nice":false,"zero":false}},"y":{"field":"t","type":"quantitative","axis":null,"scale":{"domain":[-28,159],"nice":false,"zero":false}}},"layer":[
{"data":{"name":"voshape"},"mark":{"type":"area","orient":"horizontal"},"encoding":{"x2":{"field":"vo2"},"color":{"field":"level","type":"nominal","legend":null,"scale":{"domain":["w1","w2","w3","a","m1","m2","m3","core"],"range":["#fbf3bf","#f6d777","#eeae2a","#de8710","#c4620a","#9c3b08","#6a130e","#4a0b15"]}}}},
{"data":{"name":"r2rules"},"transform":[{"filter":"indexof(datum.p,'f')>=0"}],"mark":{"type":"rule","color":"#111"},"encoding":{"x2":{"field":"vo2"},"y2":{"field":"t2"},"strokeWidth":{"field":"k","type":"nominal","legend":null,"scale":{"domain":["thin","thick","dots"],"range":[1,2,1.2]}},"strokeDash":{"field":"k","type":"nominal","legend":null,"scale":{"domain":["thin","thick","dots"],"range":[[1,0],[1,0],[1,8]]}}}},
{"data":{"name":"r2heads"},"transform":[{"filter":"indexof(datum.p,'f')>=0"}],"mark":{"type":"point","filled":true,"color":"#111","opacity":1,"size":16},"encoding":{"shape":{"field":"dir","type":"nominal","legend":null,"scale":{"domain":["up","right"],"range":["triangle-up","triangle-right"]}}}},
{"data":{"name":"r2labels"},"transform":[{"filter":"indexof(datum.p,'f')>=0&&datum.k=='axis'"}],"mark":{"type":"text","style":"axislabel"},"encoding":{"text":{"field":"label"}}},
{"data":{"name":"r2labels"},"transform":[{"filter":"indexof(datum.p,'f')>=0&&datum.k=='caption'"}],"mark":{"type":"text","style":"caption"},"encoding":{"text":{"field":"label"}}}
]},
{"width":344,"height":187,"encoding":{"x":{"field":"vo","type":"quantitative","axis":null,"scale":{"domain":[-168,176],"nice":false,"zero":false}},"y":{"field":"t","type":"quantitative","axis":null,"scale":{"domain":[-28,159],"nice":false,"zero":false}}},"layer":[
{"data":{"name":"voshape"},"transform":[{"filter":"indexof(['a','m1','m2','m3','core'],datum.level)>=0"}],"mark":{"type":"area","orient":"horizontal"},"encoding":{"x2":{"field":"vo2"},"color":{"field":"level","type":"nominal","legend":null,"scale":{"domain":["w1","w2","w3","a","m1","m2","m3","core"],"range":["#fbf3bf","#f6d777","#eeae2a","#de8710","#c4620a","#9c3b08","#6a130e","#4a0b15"]}}}},
{"data":{"name":"r2rules"},"transform":[{"filter":"indexof(datum.p,'g')>=0"}],"mark":{"type":"rule","color":"#111"},"encoding":{"x2":{"field":"vo2"},"y2":{"field":"t2"},"strokeWidth":{"field":"k","type":"nominal","legend":null,"scale":{"domain":["thin","thick","dots"],"range":[1,2,1.2]}},"strokeDash":{"field":"k","type":"nominal","legend":null,"scale":{"domain":["thin","thick","dots"],"range":[[1,0],[1,0],[1,8]]}}}},
{"data":{"name":"r2heads"},"transform":[{"filter":"indexof(datum.p,'g')>=0"}],"mark":{"type":"point","filled":true,"color":"#111","opacity":1,"size":16},"encoding":{"shape":{"field":"dir","type":"nominal","legend":null,"scale":{"domain":["up","right"],"range":["triangle-up","triangle-right"]}}}},
{"data":{"name":"r2labels"},"transform":[{"filter":"indexof(datum.p,'g')>=0&&datum.k=='axis'"}],"mark":{"type":"text","style":"axislabel"},"encoding":{"text":{"field":"label"}}},
{"data":{"name":"r2labels"},"transform":[{"filter":"indexof(datum.p,'g')>=0&&datum.k=='caption'"}],"mark":{"type":"text","style":"caption"},"encoding":{"text":{"field":"label"}}},
{"data":{"name":"r2labels"},"transform":[{"filter":"indexof(datum.p,'g')>=0&&datum.k=='math'"}],"mark":{"type":"text","style":"math"},"encoding":{"text":{"field":"label"}}},
{"data":{"name":"r2labels"},"transform":[{"filter":"indexof(datum.p,'g')>=0&&datum.k=='sub'"}],"mark":{"type":"text","style":"sub"},"encoding":{"text":{"field":"label"}}}
]},
{"width":344,"height":187,"encoding":{"x":{"field":"vo","type":"quantitative","axis":null,"scale":{"domain":[-168,176],"nice":false,"zero":false}},"y":{"field":"t","type":"quantitative","axis":null,"scale":{"domain":[-28,159],"nice":false,"zero":false}}},"layer":[
{"data":{"name":"voshape"},"mark":{"type":"area","orient":"horizontal"},"encoding":{"x2":{"field":"vo2"},"color":{"field":"level","type":"nominal","legend":null,"scale":{"domain":["w1","w2","w3","a","m1","m2","m3","core"],"range":["#fbf3bf","#f6d777","#eeae2a","#de8710","#c4620a","#9c3b08","#6a130e","#4a0b15"]}}}},
{"data":{"name":"voshape"},"transform":[{"filter":"datum.level=='a'"}],"mark":{"type":"line","color":"#ffffff","strokeWidth":1.2},"encoding":{"order":{"field":"t","type":"quantitative"}}},
{"data":{"name":"voshape"},"transform":[{"filter":"datum.level=='a'"}],"mark":{"type":"line","color":"#ffffff","strokeWidth":1.2},"encoding":{"x":{"field":"vo2","type":"quantitative"},"order":{"field":"t","type":"quantitative"}}},
{"data":{"name":"r2rules"},"transform":[{"filter":"indexof(datum.p,'h')>=0"}],"mark":{"type":"rule","color":"#111"},"encoding":{"x2":{"field":"vo2"},"y2":{"field":"t2"},"strokeWidth":{"field":"k","type":"nominal","legend":null,"scale":{"domain":["thin","thick","dots"],"range":[1,2,1.2]}},"strokeDash":{"field":"k","type":"nominal","legend":null,"scale":{"domain":["thin","thick","dots"],"range":[[1,0],[1,0],[1,8]]}}}},
{"data":{"name":"r2heads"},"transform":[{"filter":"indexof(datum.p,'h')>=0"}],"mark":{"type":"point","filled":true,"color":"#111","opacity":1,"size":16},"encoding":{"shape":{"field":"dir","type":"nominal","legend":null,"scale":{"domain":["up","right"],"range":["triangle-up","triangle-right"]}}}},
{"data":{"name":"r2labels"},"transform":[{"filter":"indexof(datum.p,'h')>=0&&datum.k=='axis'"}],"mark":{"type":"text","style":"axislabel"},"encoding":{"text":{"field":"label"}}},
{"data":{"name":"r2labels"},"transform":[{"filter":"indexof(datum.p,'h')>=0&&datum.k=='caption'"}],"mark":{"type":"text","style":"caption"},"encoding":{"text":{"field":"label"}}},
{"data":{"name":"r2labels"},"transform":[{"filter":"indexof(datum.p,'h')>=0&&datum.k=='math'"}],"mark":{"type":"text","style":"math"},"encoding":{"text":{"field":"label"}}},
{"data":{"name":"r2labels"},"transform":[{"filter":"indexof(datum.p,'h')>=0&&datum.k=='sub'"}],"mark":{"type":"text","style":"sub"},"encoding":{"text":{"field":"label"}}}
]},
{"width":344,"height":199,"encoding":{"x":{"field":"a","type":"quantitative","axis":null,"scale":{"domain":[-0.187,2.008],"nice":false,"zero":false}},"y":{"field":"v","type":"quantitative","axis":null,"scale":{"domain":[-86,511],"nice":false,"zero":false}}},"layer":[
{"data":{"name":"pcpnarrow"},"mark":{"type":"area"},"encoding":{"y2":{"field":"v2"},"color":{"field":"level","type":"nominal","legend":null,"scale":{"domain":["L1","L2","L3","L4","L5","L6","L7","L8","L9","L10"],"range":["#f4e9b8","#d2da95","#8fc477","#4fa873","#2f8d7e","#277a88","#26668a","#235488","#204484","#1f3780"]}}}},
{"data":{"name":"r3rules"},"mark":{"type":"rule","color":"#111"},"encoding":{"x2":{"field":"a2"},"y2":{"field":"v2"},"strokeWidth":{"field":"k","type":"nominal","legend":null,"scale":{"domain":["thin","thick"],"range":[1,2]}}}},
{"data":{"name":"r3heads"},"mark":{"type":"point","filled":true,"color":"#111","opacity":1,"size":16},"encoding":{"shape":{"field":"dir","type":"nominal","legend":null,"scale":{"domain":["up","right"],"range":["triangle-up","triangle-right"]}}}},
{"data":{"name":"r3labels"},"transform":[{"filter":"indexof(datum.p,'i')>=0&&datum.k=='small'"}],"mark":{"type":"text","style":"small"},"encoding":{"text":{"field":"label"}}},
{"data":{"name":"r3labels"},"transform":[{"filter":"indexof(datum.p,'i')>=0&&datum.k=='note'"}],"mark":{"type":"text","style":"note"},"encoding":{"text":{"field":"label"}}},
{"data":{"name":"r3labels"},"transform":[{"filter":"indexof(datum.p,'i')>=0&&datum.k=='noteit'"}],"mark":{"type":"text","style":"noteit"},"encoding":{"text":{"field":"label"}}},
{"data":{"name":"r3labels"},"transform":[{"filter":"indexof(datum.p,'i')>=0&&datum.k=='eta'"}],"mark":{"type":"text","style":"eta"},"encoding":{"text":{"field":"label"}}},
{"data":{"name":"r3labels"},"transform":[{"filter":"indexof(datum.p,'i')>=0&&datum.k=='etasub'"}],"mark":{"type":"text","style":"etasub"},"encoding":{"text":{"field":"label"}}},
{"data":{"name":"r3labels"},"transform":[{"filter":"indexof(datum.p,'i')>=0&&datum.k=='caption'"}],"mark":{"type":"text","style":"caption"},"encoding":{"text":{"field":"label"}}}
]},
{"width":344,"height":199,"encoding":{"x":{"field":"a","type":"quantitative","axis":null,"scale":{"domain":[-0.187,2.008],"nice":false,"zero":false}},"y":{"field":"v","type":"quantitative","axis":null,"scale":{"domain":[-86,511],"nice":false,"zero":false}}},"layer":[
{"data":{"name":"pcpwide"},"mark":{"type":"area"},"encoding":{"y2":{"field":"v2"},"color":{"field":"level","type":"nominal","legend":null,"scale":{"domain":["L1","L2","L3","L4","L5","L6","L7","L8","L9","L10"],"range":["#f4e9b8","#d2da95","#8fc477","#4fa873","#2f8d7e","#277a88","#26668a","#235488","#204484","#1f3780"]}}}},
{"data":{"name":"r3rules"},"mark":{"type":"rule","color":"#111"},"encoding":{"x2":{"field":"a2"},"y2":{"field":"v2"},"strokeWidth":{"field":"k","type":"nominal","legend":null,"scale":{"domain":["thin","thick"],"range":[1,2]}}}},
{"data":{"name":"r3heads"},"mark":{"type":"point","filled":true,"color":"#111","opacity":1,"size":16},"encoding":{"shape":{"field":"dir","type":"nominal","legend":null,"scale":{"domain":["up","right"],"range":["triangle-up","triangle-right"]}}}},
{"data":{"name":"r3labels"},"transform":[{"filter":"indexof(datum.p,'j')>=0&&datum.k=='small'"}],"mark":{"type":"text","style":"small"},"encoding":{"text":{"field":"label"}}},
{"data":{"name":"r3labels"},"transform":[{"filter":"indexof(datum.p,'j')>=0&&datum.k=='note'"}],"mark":{"type":"text","style":"note"},"encoding":{"text":{"field":"label"}}},
{"data":{"name":"r3labels"},"transform":[{"filter":"indexof(datum.p,'j')>=0&&datum.k=='noteit'"}],"mark":{"type":"text","style":"noteit"},"encoding":{"text":{"field":"label"}}},
{"data":{"name":"r3labels"},"transform":[{"filter":"indexof(datum.p,'j')>=0&&datum.k=='eta'"}],"mark":{"type":"text","style":"eta"},"encoding":{"text":{"field":"label"}}},
{"data":{"name":"r3labels"},"transform":[{"filter":"indexof(datum.p,'j')>=0&&datum.k=='etasub'"}],"mark":{"type":"text","style":"etasub"},"encoding":{"text":{"field":"label"}}},
{"data":{"name":"r3labels"},"transform":[{"filter":"indexof(datum.p,'j')>=0&&datum.k=='caption'"}],"mark":{"type":"text","style":"caption"},"encoding":{"text":{"field":"label"}}}
]},
{"width":344,"height":199,"encoding":{"x":{"field":"a","type":"quantitative","axis":null,"scale":{"domain":[-0.187,2.008],"nice":false,"zero":false}},"y":{"field":"v","type":"quantitative","axis":null,"scale":{"domain":[-86,511],"nice":false,"zero":false}}},"layer":[
{"data":{"name":"pcpnarrow"},"mark":{"type":"area"},"encoding":{"y2":{"field":"v2"},"color":{"field":"level","type":"nominal","legend":null,"scale":{"domain":["L1","L2","L3","L4","L5","L6","L7","L8","L9","L10"],"range":["#f4e9b8","#d2da95","#8fc477","#4fa873","#2f8d7e","#277a88","#26668a","#235488","#204484","#1f3780"]}}}},
{"data":{"name":"r3rules"},"mark":{"type":"rule","color":"#111"},"encoding":{"x2":{"field":"a2"},"y2":{"field":"v2"},"strokeWidth":{"field":"k","type":"nominal","legend":null,"scale":{"domain":["thin","thick"],"range":[1,2]}}}},
{"data":{"name":"r3heads"},"mark":{"type":"point","filled":true,"color":"#111","opacity":1,"size":16},"encoding":{"shape":{"field":"dir","type":"nominal","legend":null,"scale":{"domain":["up","right"],"range":["triangle-up","triangle-right"]}}}},
{"data":{"name":"r3labels"},"transform":[{"filter":"indexof(datum.p,'k')>=0&&datum.k=='small'"}],"mark":{"type":"text","style":"small"},"encoding":{"text":{"field":"label"}}},
{"data":{"name":"r3labels"},"transform":[{"filter":"indexof(datum.p,'k')>=0&&datum.k=='note'"}],"mark":{"type":"text","style":"note"},"encoding":{"text":{"field":"label"}}},
{"data":{"name":"r3labels"},"transform":[{"filter":"indexof(datum.p,'k')>=0&&datum.k=='noteit'"}],"mark":{"type":"text","style":"noteit"},"encoding":{"text":{"field":"label"}}},
{"data":{"name":"r3labels"},"transform":[{"filter":"indexof(datum.p,'k')>=0&&datum.k=='eta'"}],"mark":{"type":"text","style":"eta"},"encoding":{"text":{"field":"label"}}},
{"data":{"name":"r3labels"},"transform":[{"filter":"indexof(datum.p,'k')>=0&&datum.k=='etasub'"}],"mark":{"type":"text","style":"etasub"},"encoding":{"text":{"field":"label"}}},
{"data":{"name":"r3labels"},"transform":[{"filter":"indexof(datum.p,'k')>=0&&datum.k=='caption'"}],"mark":{"type":"text","style":"caption"},"encoding":{"text":{"field":"label"}}}
]},
{"width":344,"height":199,"encoding":{"x":{"field":"a","type":"quantitative","axis":null,"scale":{"domain":[-0.187,2.008],"nice":false,"zero":false}},"y":{"field":"v","type":"quantitative","axis":null,"scale":{"domain":[-86,511],"nice":false,"zero":false}}},"layer":[
{"data":{"name":"pcpwide"},"mark":{"type":"area"},"encoding":{"y2":{"field":"v2"},"color":{"field":"level","type":"nominal","legend":null,"scale":{"domain":["L1","L2","L3","L4","L5","L6","L7","L8","L9","L10"],"range":["#f4e9b8","#d2da95","#8fc477","#4fa873","#2f8d7e","#277a88","#26668a","#235488","#204484","#1f3780"]}}}},
{"data":{"name":"r3rules"},"mark":{"type":"rule","color":"#111"},"encoding":{"x2":{"field":"a2"},"y2":{"field":"v2"},"strokeWidth":{"field":"k","type":"nominal","legend":null,"scale":{"domain":["thin","thick"],"range":[1,2]}}}},
{"data":{"name":"r3heads"},"mark":{"type":"point","filled":true,"color":"#111","opacity":1,"size":16},"encoding":{"shape":{"field":"dir","type":"nominal","legend":null,"scale":{"domain":["up","right"],"range":["triangle-up","triangle-right"]}}}},
{"data":{"name":"r3labels"},"transform":[{"filter":"indexof(datum.p,'l')>=0&&datum.k=='small'"}],"mark":{"type":"text","style":"small"},"encoding":{"text":{"field":"label"}}},
{"data":{"name":"r3labels"},"transform":[{"filter":"indexof(datum.p,'l')>=0&&datum.k=='note'"}],"mark":{"type":"text","style":"note"},"encoding":{"text":{"field":"label"}}},
{"data":{"name":"r3labels"},"transform":[{"filter":"indexof(datum.p,'l')>=0&&datum.k=='noteit'"}],"mark":{"type":"text","style":"noteit"},"encoding":{"text":{"field":"label"}}},
{"data":{"name":"r3labels"},"transform":[{"filter":"indexof(datum.p,'l')>=0&&datum.k=='eta'"}],"mark":{"type":"text","style":"eta"},"encoding":{"text":{"field":"label"}}},
{"data":{"name":"r3labels"},"transform":[{"filter":"indexof(datum.p,'l')>=0&&datum.k=='etasub'"}],"mark":{"type":"text","style":"etasub"},"encoding":{"text":{"field":"label"}}},
{"data":{"name":"r3labels"},"transform":[{"filter":"indexof(datum.p,'l')>=0&&datum.k=='caption'"}],"mark":{"type":"text","style":"caption"},"encoding":{"text":{"field":"label"}}}
]}
]}
